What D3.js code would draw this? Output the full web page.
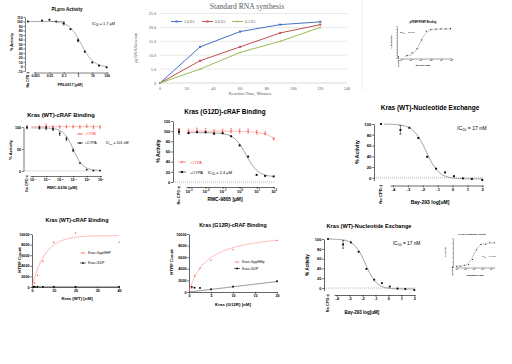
<!DOCTYPE html>
<html><head><meta charset="utf-8">
<script src="https://cdn.jsdelivr.net/npm/d3@7"></script>
<style>html,body{margin:0;padding:0;background:#fff;}svg{display:block;}</style>
</head><body>
<svg id="c" width="512" height="364"></svg>
<script>
// ---------------- DATA ----------------
// Panel A: PLpro Activity
const plproConc = [0.003, 0.01, 0.03, 0.1, 0.3, 1, 3, 10, 30, 100];
const plproActivity = [102, 104, 100, 96, 83, 58, 33, 9, 2, -2];
const plproErr = [0, 0, 0, 4, 0, 3, 0, 0, 0, 0];
const plproNoCpd = 100;
const plproXTicks = [0.001, 0.01, 0.1, 1, 10, 100];
const plproXTickLabels = ["0.001", "0.01", "0.1", "1", "10", "100"];
const plproYTicks = [-10, 0, 10, 20, 30, 40, 50, 60, 70, 80, 90, 100, 110];
const plproFit = {top: 101, bottom: -2, ic50: 1.7, hill: 1.0};

// Panel B: Standard RNA synthesis
const rnaTime = [0, 30, 60, 90, 120];
const rnaSeriesNames = ["1.0 E5", "0.8 E5", "0.5 E5"];
const rnaSeries1 = [0, 13, 18.5, 21, 22];
const rnaSeries2 = [0, 8, 13, 18, 21];
const rnaSeries3 = [0, 5, 11, 15, 20];
const rnaXTicks = [0, 20, 40, 60, 80, 100, 120, 140];
const rnaYTicks = [0, 5, 10, 15, 20, 25];

// Panel C: FKBP binding
const fkbpLogConc = [-2.35, -1.85, -1.35, -0.9, -0.45, 0, 0.5, 1, 1.5, 1.95];
const fkbpResponse = [9, 18, 32, 62, 92, 98, 99, 100, 100, 101];
const fkbpNoCpd = 4;
const fkbpXTicks = [-3, -2, -1, 0, 1, 2];
const fkbpYTicks = [0, 10, 20, 30, 40, 50, 60, 70, 80, 90, 100, 110];

// Panel D: Kras (WT)-cRAF Binding, RMC-6236
const wtCrafLogConc = [-3.5, -3, -2.5, -2, -1.5, -1, -0.5, 0, 0.5, 1];
const wtCrafPlus = [98, 98, 95, 85, 73, 47, 18, 3, 1, 1];
const wtCrafPlusErr = [3, 4, 3, 4, 4, 3, 0, 0, 0, 0];
const wtCrafMinus = [101, 102, 100, 100, 101, 101, 100, 102, 100, 100];
const wtCrafMinusErr = [3, 5, 3, 3, 3, 3, 3, 3, 4, 3];
const wtCrafXTicks = [-4, -3, -2, -1, 0, 1];
const wtCrafYTicks = [0, 50, 100];

// Panel E: Kras (G12D)-cRAF Binding, RMC-9805
const g12dLogConc = [-3, -2.5, -2, -1.5, -1, -0.5, 0, 0.5, 1, 1.5, 2];
const g12dPlus = [96, 98, 98, 95, 96, 90, 72, 50, 14, 12, 11];
const g12dMinus = [100, 102, 101, 99, 100, 101, 100, 100, 98, 96, 85];
const g12dMinusErr = [4, 4, 4, 4, 4, 4, 4, 4, 4, 3, 2];
const g12dXTicks = [-3, -2, -1, 0, 1, 2];
const g12dYTicks = [0, 20, 40, 60, 80, 100, 120];

// Panels F & I: Kras (WT)-Nucleotide Exchange, Bay-293
const nxLogConc = [-3.5, -2.9, -2.3, -1.7, -1.1, -0.5, 0.1, 0.7, 1.3, 2.0];
const nxActivity = [89, 93, 74, 39, 17, 10, 3, -1, -2, -4];
const nxErr = [8, 0, 0, 0, 0, 0, 0, 0, 0, 0];
const nxXTicks = [-4, -3, -2, -1, 0, 1, 2];
const nxYTicks = [0, 20, 40, 60, 80, 100];

// Panel G: Kras (WT)-cRAF Binding (titration)
const wtTitConc = [1.25, 2.5, 5, 10, 20, 40];
const wtTitGppNHP = [800, 2200, 4900, 8400, 10200, 8500];
const wtTitGdpConc = [0.6, 1.25, 2.5, 5, 10, 20, 40];
const wtTitGdp = [60, 40, 50, 30, 60, 40, 50];
const wtTitXTicks = [0, 10, 20, 30, 40];
const titYTicks = [0, 2000, 4000, 6000, 8000, 10000];

// Panel H: Kras (G12R)-cRAF Binding (titration)
const g12rConc = [0.625, 1.25, 2.5, 5, 10, 20];
const g12rGppNHp = [700, 2800, 4100, 5500, 7300, 8900];
const g12rGdp = [870, 750, 700, 460, 930, 1860];
const g12rXTicks = [0, 5, 10, 15, 20];

// Panel J: PARP1 Trapping Activity
const parpLogConc = [-4.0, -3.6, -3.1, -2.6, -2.15, -1.65, -1.15, -0.6, -0.1, 0.45];
const parpResponse = [3, 3, 7, 10, 31, 71, 93, 93, 103, 100];
const parpNoCpd = 0;
const parpXTicks = [-4, -3, -2, -1, 0];
const parpYTicks = [0, 20, 40, 60, 80, 100, 120];

// ---------------- DRAWING ----------------
const svg = d3.select("#c");
const FONT = '"Liberation Sans", Arial, Helvetica, sans-serif';
const SERIF = '"Liberation Serif", "Times New Roman", serif';
svg.append("rect").attr("width", 512).attr("height", 364).attr("fill", "#fff");

function txt(g, s, x, y, fs, opt = {}) {
  const t = g.append("text").attr("x", x).attr("y", y).attr("font-size", fs)
    .attr("font-family", opt.family || FONT).attr("font-weight", opt.weight || "bold")
    .attr("fill", opt.fill || "#000").attr("text-anchor", opt.anchor || "middle").text(s);
  if (opt.rotate) t.attr("transform", `rotate(-90,${x},${y})`);
  return t;
}

function subText(g, pre, sub, post, x, y, fs, anchor) {
  const t = g.append("text").attr("x", x).attr("y", y).attr("font-size", fs)
    .attr("font-family", FONT).attr("font-weight", "normal").attr("text-anchor", anchor || "start");
  t.append("tspan").text(pre);
  t.append("tspan").attr("font-size", fs * 0.7).attr("dy", fs * 0.3).text(sub);
  t.append("tspan").attr("dy", -fs * 0.3).text(post);
  return t;
}

function marker(g, x, y, size, color, shape) {
  if (shape === "tri") {
    const h = size;
    g.append("path").attr("d", `M${x},${y - h * 0.6}L${x + h * 0.55},${y + h * 0.4}L${x - h * 0.55},${y + h * 0.4}Z`).attr("fill", color);
  } else {
    g.append("rect").attr("x", x - size / 2).attr("y", y - size / 2).attr("width", size).attr("height", size).attr("fill", color);
  }
}

function panel(p) {
  const g = svg.append("g");
  const sw = p.sw || 0.6;
  const y = d3.scaleLinear().domain(p.yDom).range(p.yPx);
  const x = d3.scaleLinear().domain(p.xDom).range(p.xPx);
  if (p.zeroLine) {
    g.append("line").attr("x1", p.yAxisX).attr("x2", p.xPx[1]).attr("y1", y(0)).attr("y2", y(0))
      .attr("stroke", "#666").attr("stroke-width", sw * 0.8).attr("stroke-dasharray", "1,1");
  }
  const ya = d3.axisLeft(y).tickValues(p.yTicks).tickSize(p.tick).tickSizeOuter(0).tickPadding(p.pad)
    .tickFormat(p.yFmt || (d => d));
  const yg = g.append("g").attr("transform", `translate(${p.yAxisX},0)`).call(ya);
  const xa = d3.axisBottom(x).tickValues(p.xTicks).tickSize(p.tick).tickSizeOuter(0).tickPadding(p.pad)
    .tickFormat(p.xFmt || (d => d));
  const xg = g.append("g").attr("transform", `translate(0,${p.xAxisY})`).call(xa);
  [yg, xg].forEach(a => {
    a.selectAll("path,line").attr("stroke", "#000").attr("stroke-width", sw);
    a.selectAll("text").attr("font-size", p.fs).attr("font-family", FONT).attr("font-weight", "bold").attr("fill", "#000");
  });
  if (p.xPow) {
    xg.selectAll(".tick text").each(function (d) {
      const t = d3.select(this); t.text(null);
      t.append("tspan").text("10");
      t.append("tspan").attr("dy", -p.fs * 0.4).attr("font-size", p.fs * 0.7).text(d);
    });
  }
  if (p.noCpdX !== undefined) {
    g.append("line").attr("x1", p.noCpdX - p.tick * 0.9).attr("x2", p.noCpdX + p.tick * 0.9)
      .attr("y1", p.xAxisY).attr("y2", p.xAxisY).attr("stroke", "#000").attr("stroke-width", sw);
    g.append("line").attr("x1", p.noCpdX).attr("x2", p.noCpdX)
      .attr("y1", p.xAxisY).attr("y2", p.xAxisY + p.tick).attr("stroke", "#000").attr("stroke-width", sw);
    txt(g, "No CPD", p.noCpdX + p.fs * 0.35, p.xAxisY + p.tick + p.pad, p.fs, {anchor: "end", rotate: true});
  }
  if (p.title) txt(g, p.title.t, p.title.x, p.title.y, p.title.fs);
  if (p.xLabel) txt(g, p.xLabel.t, p.xLabel.x, p.xLabel.y, p.xLabel.fs);
  if (p.yLabel) txt(g, p.yLabel.t, p.yLabel.x, p.yLabel.y, p.yLabel.fs, {rotate: true});

  p.series.forEach(s => {
    if (s.fit) {
      const f = s.fit;
      const x0 = f.from !== undefined ? f.from : p.xDom[0], x1 = f.to !== undefined ? f.to : p.xDom[1];
      const pts = d3.range(0, 121).map(i => {
        const lx = x0 + (x1 - x0) * i / 120;
        let v;
        if (f.type === "dr") v = f.bottom + (f.top - f.bottom) / (1 + Math.pow(10, (lx - f.logX50) * f.hill));
        else if (f.type === "assoc") v = f.ymax * (1 - Math.exp(-f.k * lx));
        else if (f.type === "hyper") v = f.bmax * lx / (f.kd + lx);
        else v = f.slope * lx + (f.icpt || 0);
        return [x(lx), y(v)];
      });
      g.append("path").attr("d", d3.line()(pts)).attr("fill", "none")
        .attr("stroke", s.fitColor).attr("stroke-width", s.fitW || sw * 1.1);
    }
    const cap = s.ms * 0.6;
    s.x.forEach((xv, i) => {
      const e = s.err ? s.err[i] : 0;
      const px = x(xv), py = y(s.y[i]);
      if (e) {
        g.append("path").attr("d", `M${px},${y(s.y[i] + e)}V${y(s.y[i] - e)}M${px - cap},${y(s.y[i] + e)}H${px + cap}M${px - cap},${y(s.y[i] - e)}H${px + cap}`)
          .attr("stroke", s.color).attr("stroke-width", sw * 0.8).attr("fill", "none");
      }
      marker(g, px, py, s.ms, s.color, s.shape);
    });
    if (s.noCpd !== undefined) {
      if (s.noCpdErr) {
        const px = p.noCpdX;
        g.append("path").attr("d", `M${px},${y(s.noCpd + s.noCpdErr)}V${y(s.noCpd - s.noCpdErr)}M${px - cap},${y(s.noCpd + s.noCpdErr)}H${px + cap}M${px - cap},${y(s.noCpd - s.noCpdErr)}H${px + cap}`)
          .attr("stroke", s.color).attr("stroke-width", sw * 0.8).attr("fill", "none");
      }
      marker(g, p.noCpdX, y(s.noCpd), s.ms, s.color, s.shape);
    }
  });
  return {g, x, y};
}

const RED = "#ff3b3b", PINK = "#ff8f8f", GRAY = "#6b6b6b";

// ---- Panel A: PLpro ----
{
  const P = panel({
    yAxisX: 25, yPx: [71, 17], yDom: [-10, 110], yTicks: plproYTicks,
    xAxisY: 72.5, xPx: [33, 108], xDom: [-3.15, 2.1], xTicks: plproXTicks.map(Math.log10),
    xFmt: (d, i) => plproXTickLabels[i], noCpdX: 28,
    tick: 1.6, pad: 0.8, fs: 3.4, sw: 0.5,
    title: {t: "PLpro Activity", x: 67, y: 10.5, fs: 4.6},
    xLabel: {t: "PRL0617 [\u00b5M]", x: 70, y: 86, fs: 3.8},
    yLabel: {t: "% Activity", x: 13, y: 42, fs: 3.8},
    series: [{x: plproConc.map(Math.log10), y: plproActivity, err: plproErr, color: "#000", ms: 1.8,
      noCpd: plproNoCpd,
      fit: {type: "dr", top: plproFit.top, bottom: plproFit.bottom, logX50: Math.log10(plproFit.ic50), hill: plproFit.hill, from: -1.9, to: 2.05},
      fitColor: GRAY}]
  });
  P.g.append("line").attr("x1", 28).attr("x2", 62).attr("y1", P.y(100)).attr("y2", P.y(100)).attr("stroke", GRAY).attr("stroke-width", 0.55);
  subText(P.g, "IC", "50", " = 1.7 \u00b5M", 92, 24.5, 3.8);
}

// ---- Panel B: Standard RNA synthesis (Excel style) ----
{
  const g = svg.append("g");
  const x = d3.scaleLinear().domain([0, 140]).range([160, 347]);
  const y = d3.scaleLinear().domain([0, 25]).range([83, 13.5]);
  rnaYTicks.forEach(v => {
    g.append("line").attr("x1", 160).attr("x2", 347).attr("y1", y(v)).attr("y2", y(v))
      .attr("stroke", v === 0 ? "#bfbfbf" : "#d9d9d9").attr("stroke-width", 0.6);
    txt(g, v === 0 ? "0" : v.toFixed(1), 156, y(v) + 1.5, 4.2, {anchor: "end", weight: "normal", fill: "#595959", family: SERIF});
  });
  rnaXTicks.forEach(v => {
    txt(g, String(v), x(v), 89.5, 4.2, {weight: "normal", fill: "#595959", family: SERIF});
  });
  txt(g, "Standard RNA synthesis", 247, 9, 7.6, {weight: "normal", fill: "#595959", family: SERIF});
  txt(g, "Reaction Time, Minutes", 250, 94.5, 4.4, {weight: "normal", fill: "#595959", family: SERIF});
  txt(g, "\u00b5g RNA/Reaction", 137, 48, 4.2, {weight: "normal", fill: "#595959", rotate: true, family: SERIF});
  const cols = ["#4472c4", "#c0504d", "#9bbb59"];
  const ser = [rnaSeries1, rnaSeries2, rnaSeries3];
  ser.forEach((s, k) => {
    g.append("path").attr("d", d3.line().x((d, i) => x(rnaTime[i])).y(d => y(d))(s))
      .attr("fill", "none").attr("stroke", cols[k]).attr("stroke-width", 1);
    s.forEach((d, i) => marker(g, x(rnaTime[i]), y(d), 2, cols[k], k === 2 ? "tri" : "sq"));
  });
  const lx = [171, 202, 232];
  rnaSeriesNames.forEach((n, k) => {
    g.append("line").attr("x1", lx[k]).attr("x2", lx[k] + 11).attr("y1", 21.5).attr("y2", 21.5).attr("stroke", cols[k]).attr("stroke-width", 1);
    marker(g, lx[k] + 5.5, 21.5, 2, cols[k], k === 2 ? "tri" : "sq");
    txt(g, n, lx[k] + 13, 23, 4, {anchor: "start", weight: "normal", fill: "#595959", family: SERIF});
  });
  g.append("line").attr("x1", 362).attr("x2", 362).attr("y1", 0).attr("y2", 90).attr("stroke", "#e3e3e3").attr("stroke-width", 0.6);
}

// ---- Panel C: FKBP binding (tiny) ----
{
  const P = panel({
    yAxisX: 397, yPx: [58, 26], yDom: [0, 110], yTicks: fkbpYTicks, yFmt: () => "",
    xAxisY: 58.5, xPx: [400, 452], xDom: [-3.05, 2.1], xTicks: fkbpXTicks, xPow: true, noCpdX: 398.5,
    tick: 0.9, pad: 0.5, fs: 1.9, sw: 0.35,
    title: {t: "pFKBP/FKBP Binding", x: 423, y: 23, fs: 2.6},
    xLabel: {t: "MT-GDP [\u00b5M]", x: 423, y: 66, fs: 2.3},
    yLabel: {t: "% Response", x: 392, y: 42, fs: 2.3},
    series: [{x: fkbpLogConc, y: fkbpResponse, color: "#000", ms: 1.0, noCpd: fkbpNoCpd,
      fit: {type: "dr", top: 100, bottom: 5, logX50: -1.05, hill: -1.3, from: -2.6, to: 2.0}, fitColor: GRAY, fitW: 0.4}]
  });
  subText(P.g, "EC", "50", " = 75 nM", 400, 33, 2.4);
}

// ---- Panel D: Kras (WT)-cRAF Binding, RMC-6236 ----
{
  const P = panel({
    yAxisX: 23.5, yPx: [171, 127], yDom: [0, 100], yTicks: wtCrafYTicks,
    xAxisY: 176, xPx: [30, 101.5], xDom: [-4.2, 1.1], xTicks: wtCrafXTicks, xPow: true, noCpdX: 27,
    tick: 1.6, pad: 0.8, fs: 3.6, sw: 0.55, zeroLine: true,
    title: {t: "Kras (WT)-cRAF Binding", x: 61, y: 117, fs: 5.8},
    xLabel: {t: "RMC-6236 [\u00b5M]", x: 62, y: 189, fs: 4.2},
    yLabel: {t: "% Activity", x: 12, y: 150, fs: 4.2},
    series: [
      {x: wtCrafLogConc, y: wtCrafMinus, err: wtCrafMinusErr, color: RED, ms: 1.5, shape: "tri", noCpd: 100, noCpdErr: 3,
        fit: {type: "lin", slope: 0, icpt: 101, from: -4.1, to: 1.05}, fitColor: PINK},
      {x: wtCrafLogConc, y: wtCrafPlus, err: wtCrafPlusErr, color: "#000", ms: 1.5, noCpd: 99, noCpdErr: 3,
        fit: {type: "dr", top: 98, bottom: 1, logX50: Math.log10(0.101), hill: 1.2, from: -4.1, to: 1.05}, fitColor: GRAY}
    ]
  });
  const g = P.g;
  g.append("line").attr("x1", 77).attr("x2", 83).attr("y1", 134).attr("y2", 134).attr("stroke", RED).attr("stroke-width", 0.6);
  marker(g, 80, 134, 1.5, RED, "tri");
  txt(g, "-CYPA", 85, 135.3, 3.6, {anchor: "start", weight: "normal", fill: RED});
  g.append("line").attr("x1", 77).attr("x2", 83).attr("y1", 143).attr("y2", 143).attr("stroke", "#000").attr("stroke-width", 0.6);
  marker(g, 80, 143, 1.5, "#000");
  txt(g, "+CYPA", 85, 144.3, 3.6, {anchor: "start", weight: "normal"});
  subText(g, "IC", "50", " = 101 nM", 106, 144.3, 3.6);
}

// ---- Panel E: Kras (G12D)-cRAF Binding, RMC-9805 ----
{
  const P = panel({
    yAxisX: 173, yPx: [182, 121], yDom: [0, 120], yTicks: g12dYTicks,
    xAxisY: 187, xPx: [186, 274.5], xDom: [-3.15, 2.05], xTicks: g12dXTicks, xPow: true, noCpdX: 179,
    tick: 1.8, pad: 0.9, fs: 4.0, sw: 0.6, zeroLine: true,
    title: {t: "Kras (G12D)-cRAF Binding", x: 225, y: 114, fs: 6.4},
    xLabel: {t: "RMC-9805 [\u00b5M]", x: 225, y: 201, fs: 4.9},
    yLabel: {t: "% Activity", x: 160, y: 151, fs: 4.9},
    series: [
      {x: g12dLogConc, y: g12dMinus, err: g12dMinusErr, color: RED, ms: 1.7, shape: "tri", noCpd: 101, noCpdErr: 4,
        fit: {type: "dr", top: 100, bottom: 0, logX50: 3.0, hill: 0.8, from: -3.1, to: 2.03}, fitColor: PINK},
      {x: g12dLogConc, y: g12dPlus, color: "#000", ms: 1.9, noCpd: 99, noCpdErr: 5,
        fit: {type: "dr", top: 97, bottom: 10, logX50: Math.log10(2.4), hill: 1.2, from: -3.1, to: 2.03}, fitColor: GRAY}
    ]
  });
  const g = P.g;
  g.append("line").attr("x1", 178.5).attr("x2", 186).attr("y1", 162).attr("y2", 162).attr("stroke", RED).attr("stroke-width", 0.6);
  marker(g, 182, 162, 1.7, RED, "tri");
  txt(g, "-CYPA", 190, 163.5, 4, {anchor: "start", weight: "normal", fill: RED});
  g.append("line").attr("x1", 178.5).attr("x2", 186).attr("y1", 172).attr("y2", 172).attr("stroke", "#000").attr("stroke-width", 0.6);
  marker(g, 182, 172, 1.9, "#000");
  txt(g, "+CYPA", 190, 173.5, 4, {anchor: "start", weight: "normal"});
  subText(g, "IC", "50", " = 2.4 \u00b5M", 208, 173.5, 4);
}

// ---- Panels F & I: Kras (WT)-Nucleotide Exchange ----
function nxPanel(o) {
  const P = panel({
    yAxisX: o.yAxisX, yPx: o.yPx, yDom: [-5, 100], yTicks: nxYTicks,
    xAxisY: o.xAxisY, xPx: o.xPx, xDom: [-4.2, 2.05], xTicks: nxXTicks, noCpdX: o.noCpdX,
    tick: 1.8, pad: 0.9, fs: o.fs, sw: 0.6, zeroLine: true,
    title: o.title, xLabel: o.xLabel, yLabel: o.yLabel,
    series: [{x: nxLogConc, y: nxActivity, err: nxErr, color: "#000", ms: o.ms, noCpd: 100,
      fit: {type: "dr", top: 100, bottom: -2, logX50: Math.log10(0.017), hill: 1.0, from: -4.6, to: 2.0}, fitColor: GRAY}]
  });
  subText(P.g, "IC", "50", " = 17 nM", o.ic.x, o.ic.y, o.ic.fs);
}
nxPanel({
  yAxisX: 374, yPx: [180.5, 124], xAxisY: 185.5, xPx: [390, 483], noCpdX: 381, fs: 4.2, ms: 1.9,
  title: {t: "Kras (WT)-Nucleotide Exchange", x: 430, y: 110, fs: 6.5},
  xLabel: {t: "Bay-293 log[uM]", x: 430, y: 204, fs: 5},
  yLabel: {t: "% Activity", x: 359, y: 152, fs: 5},
  ic: {x: 457, y: 129.5, fs: 5.2}
});

// ---- Panel G: Kras (WT)-cRAF Binding titration ----
{
  const P = panel({
    yAxisX: 32, yPx: [287, 234], yDom: [0, 10000], yTicks: titYTicks,
    xAxisY: 287, xPx: [32, 119], xDom: [0, 40], xTicks: wtTitXTicks,
    tick: 1.6, pad: 0.9, fs: 3.7, sw: 0.6,
    title: {t: "Kras (WT)-cRAF Binding", x: 77, y: 221.5, fs: 5.4},
    xLabel: {t: "Kras (WT) [nM]", x: 77, y: 300, fs: 4.4},
    yLabel: {t: "HTRF Count", x: 21, y: 260, fs: 4.4},
    series: [
      {x: wtTitGdpConc, y: wtTitGdp, color: "#000", ms: 1.6,
        fit: {type: "lin", slope: 0, icpt: 40, from: 0, to: 40}, fitColor: "#444"},
      {x: wtTitConc, y: wtTitGppNHP, color: RED, ms: 1.6, shape: "tri",
        fit: {type: "assoc", ymax: 9700, k: 0.17, from: 0, to: 40}, fitColor: PINK}
    ]
  });
  const g = P.g;
  g.append("line").attr("x1", 80).attr("x2", 86).attr("y1", 253).attr("y2", 253).attr("stroke", PINK).attr("stroke-width", 0.6);
  marker(g, 83, 253, 1.5, RED, "tri");
  txt(g, "Kras-GppNHP", 88, 254.3, 3.6, {anchor: "start", weight: "normal"});
  g.append("line").attr("x1", 80).attr("x2", 86).attr("y1", 263).attr("y2", 263).attr("stroke", "#000").attr("stroke-width", 0.6);
  marker(g, 83, 263, 1.5, "#000");
  txt(g, "Kras-GDP", 88, 264.3, 3.6, {anchor: "start", weight: "normal"});
}

// ---- Panel H: Kras (G12R)-cRAF Binding titration ----
{
  const P = panel({
    yAxisX: 189, yPx: [292, 234], yDom: [0, 10000], yTicks: titYTicks,
    xAxisY: 292, xPx: [189, 277], xDom: [0, 20], xTicks: g12rXTicks,
    tick: 1.6, pad: 0.9, fs: 3.7, sw: 0.6,
    title: {t: "Kras (G12R)-cRAF Binding", x: 233, y: 226.5, fs: 5.3},
    xLabel: {t: "Kras (G12R) [nM]", x: 233, y: 306, fs: 4.4},
    yLabel: {t: "HTRF Count", x: 173, y: 262, fs: 4.4},
    series: [
      {x: g12rConc, y: g12rGdp, color: "#000", ms: 1.7,
        fit: {type: "lin", slope: 90, icpt: 0, from: 0, to: 20}, fitColor: "#555"},
      {x: g12rConc, y: g12rGppNHp, color: RED, ms: 1.5, shape: "tri",
        fit: {type: "hyper", bmax: 10700, kd: 4, from: 0, to: 20}, fitColor: PINK}
    ]
  });
  const g = P.g;
  g.append("line").attr("x1", 234).attr("x2", 240).attr("y1", 262).attr("y2", 262).attr("stroke", PINK).attr("stroke-width", 0.6);
  marker(g, 237, 262, 1.5, RED, "tri");
  txt(g, "Kras-GppNHp", 242, 263.3, 3.6, {anchor: "start", weight: "normal"});
  g.append("line").attr("x1", 234).attr("x2", 240).attr("y1", 268.5).attr("y2", 268.5).attr("stroke", "#000").attr("stroke-width", 0.6);
  marker(g, 237, 268.5, 1.6, "#000");
  txt(g, "Kras-GDP", 242, 269.8, 3.6, {anchor: "start", weight: "normal"});
}

// ---- Panel I (bottom) ----
nxPanel({
  yAxisX: 324, yPx: [290.5, 239], xAxisY: 295, xPx: [334, 415], noCpdX: 328, fs: 3.9, ms: 1.8,
  title: {t: "Kras (WT)-Nucleotide Exchange", x: 369, y: 228, fs: 5.6},
  xLabel: {t: "Bay-293 log[uM]", x: 362, y: 313.5, fs: 4.5},
  yLabel: {t: "% Activity", x: 309, y: 265, fs: 4.5},
  ic: {x: 393, y: 244.5, fs: 4.8}
});

// ---- Panel J: PARP1 Trapping (tiny) ----
{
  const P = panel({
    yAxisX: 453, yPx: [267, 238], yDom: [0, 120], yTicks: parpYTicks, yFmt: () => "",
    xAxisY: 267.5, xPx: [455, 495], xDom: [-4.2, 0.5], xTicks: parpXTicks, xPow: true, noCpdX: 452.5,
    tick: 0.9, pad: 0.5, fs: 1.8, sw: 0.35,
    title: {t: "PARP1 Trapping Activity", x: 472, y: 234.5, fs: 2.4},
    xLabel: {t: "Talazoparib [uM]", x: 475, y: 275.5, fs: 2.2},
    yLabel: {t: "% Activity", x: 446, y: 252, fs: 2.2},
    series: [{x: parpLogConc, y: parpResponse, color: "#000", ms: 0.9, noCpd: parpNoCpd,
      fit: {type: "dr", top: 99, bottom: 3, logX50: -2.0, hill: -1.3, from: -4.1, to: 0.45}, fitColor: GRAY, fitW: 0.4}]
  });
  subText(P.g, "IC", "50", " = 1.0 nM", 482, 257, 2.3);
}
</script>
</body></html>
